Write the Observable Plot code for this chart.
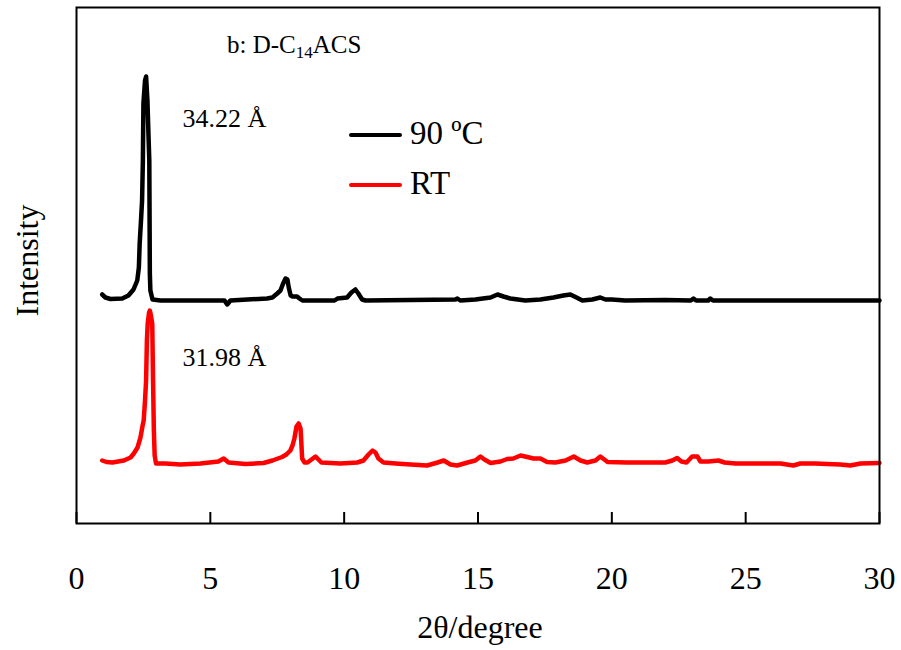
<!DOCTYPE html>
<html><head><meta charset="utf-8">
<script src="https://cdn.jsdelivr.net/npm/d3@7"></script>
<script src="https://cdn.jsdelivr.net/npm/@observablehq/plot@0.6"></script>
<style>
body{margin:0;background:#fff;}
#wrap{position:relative;width:901px;height:650px;font-family:"Liberation Serif","Times New Roman",serif;}
.ov{position:absolute;white-space:nowrap;color:#000;line-height:1;}
.sw{position:absolute;height:4px;border-radius:2px;}
</style></head><body><div id="wrap"></div>
<script>
// 2θ positions and intensities (arbitrary units, vertical offset included)
const theta90 = [0.96,1.08,1.27,1.71,1.94,2.13,2.27,2.33,2.36,2.41,2.45,2.48,2.50,2.56,2.60,2.65,2.69,2.72,2.74,2.76,2.84,3.14,
  5.53,5.63,5.75,7.12,7.32,7.50,7.62,7.72,7.81,7.88,7.93,8.00,8.07,8.24,8.33,8.44,9.64,9.75,10.11,10.27,10.42,10.53,10.67,10.80,
  14.16,14.23,14.34,14.90,15.47,15.73,15.95,16.21,16.77,17.33,17.82,18.19,18.45,18.68,18.90,19.27,19.57,19.76,20.00,20.50,22.00,
  22.95,23.05,23.15,23.60,23.68,23.78,30.00];
const int90 = [229,226,224.5,225,228,234,243,256,280,303,323,363,420,443,447,423,388,363,250,233,224,223,
  223,219,223,225,226,230,233,240,245,244,236,228,227,227,225,223,223,225,226,231,234,230,224,223,
  224,225,223,224,226,229,227,225,223,224,226,228,229,226,223,224,226,224,224,223,223.5,
  223,225,223,223,225,223,223];
const thetaRT = [0.96,1.12,1.34,1.77,2.02,2.14,2.28,2.39,2.47,2.51,2.56,2.60,2.63,2.66,2.71,2.74,2.78,2.83,2.86,2.89,2.92,2.97,
  3.32,3.88,4.63,5.30,5.50,5.68,6.31,6.99,7.32,7.68,7.84,7.99,8.07,8.14,8.22,8.30,8.37,8.39,8.43,8.52,8.63,8.78,8.93,9.04,9.15,
  9.86,10.49,10.72,10.91,11.06,11.17,11.28,11.47,11.92,12.48,13.10,13.49,13.72,13.97,14.22,14.61,14.90,15.09,15.24,15.47,15.84,
  16.09,16.32,16.59,16.84,17.07,17.33,17.58,17.89,18.27,18.58,18.83,19.08,19.39,19.57,19.72,19.84,20.57,21.07,21.55,22.00,22.26,
  22.44,22.60,22.79,23.00,23.20,23.31,23.61,23.98,24.21,24.62,25.55,26.30,26.78,27.04,27.60,28.04,28.54,28.91,29.29,30.00];
const intRT = [63,61.5,61,63,66,70,76,86,98,103,123,143,183,200,211,213,208,200,143,93,68,60,
  60,59,60,62,65,61,59.5,60.5,63,66.5,69,73,78,85,97,100,95,86,65,61,61,64,67,64,61,
  60,61,63,69,73,71,65,61,60,59,58,61,63,59,58,61,63,67,64,60.5,62,
  64.5,65,68,66.5,65,65,61.5,61,63,67,63,61,63,67,64,61.5,61,61,61,61,63,
  65.5,62,61,67,67,62,62,63,61,60,60,60,58,60,60,59.5,59,58,60,60.5];
const xTicks = [0,5,10,15,20,25,30];
const seriesNames = ["90 ºC","RT"];
const seriesColors = ["#000000","#ff0000"];
const peakLabels = ["34.22 Å","31.98 Å"];

const hot = theta90.map((t,i)=>({t, v:int90[i]}));
const rt = thetaRT.map((t,i)=>({t, v:intRT[i]}));
const font = '"Liberation Serif","Times New Roman",serif';

const chart = Plot.plot({
  width: 901, height: 650,
  marginLeft: 76, marginRight: 22, marginTop: 7, marginBottom: 127,
  style: {fontFamily: font, fontSize: "32px", color: "black", background: "white"},
  x: {domain: [0, 30], label: null},
  y: {domain: [0, 516], axis: null},
  marks: [
    Plot.axisX(xTicks, {tickSize: 0, tickPadding: 43, fontSize: 32, label: null, tickFormat: d => d}),
    Plot.tickX(xTicks, {x: d => d, insetTop: 505, stroke: "black", strokeWidth: 2}),
    Plot.line(rt, {x: "t", y: "v", stroke: seriesColors[1], strokeWidth: 4.5, strokeLinejoin: "round", strokeLinecap: "round"}),
    Plot.line(hot, {x: "t", y: "v", stroke: seriesColors[0], strokeWidth: 4.5, strokeLinejoin: "round", strokeLinecap: "round"}),
    Plot.frame({stroke: "black", strokeWidth: 2}),
    Plot.text([peakLabels[0]], {text: d => d, frameAnchor: "top-left", textAnchor: "start", lineAnchor: "middle", dx: 106, dy: 111, fontSize: 26}),
    Plot.text([peakLabels[1]], {text: d => d, frameAnchor: "top-left", textAnchor: "start", lineAnchor: "middle", dx: 106, dy: 350, fontSize: 26}),
    Plot.text(["Intensity"], {text: d => d, frameAnchor: "left", textAnchor: "middle", lineAnchor: "middle", rotate: -90, dx: -49, dy: -5, fontSize: 32}),
    Plot.text(["2θ/degree"], {text: d => d, frameAnchor: "bottom", textAnchor: "middle", lineAnchor: "middle", dx: 2, dy: 104, fontSize: 32})
  ]
});
const wrap = document.getElementById("wrap");
wrap.appendChild(chart);

function ov(html, css){ const d=document.createElement("div"); d.className="ov"; d.innerHTML=html; Object.assign(d.style, css); wrap.appendChild(d); return d; }
ov('b: D-C<span style="font-size:0.68em;position:relative;top:0.28em">14</span>ACS', {left:"227px", top:"32px", fontSize:"25px"});
seriesNames.forEach((n,i)=>{
  const cy = 135 + i*50;
  const s=document.createElement("div"); s.className="sw";
  Object.assign(s.style,{left:"349px", top:(cy-2)+"px", width:"53px", background:seriesColors[i]});
  wrap.appendChild(s);
  ov(n, {left:"410px", top:(cy-18)+"px", fontSize:"33px"});
});
</script>
</body></html>
